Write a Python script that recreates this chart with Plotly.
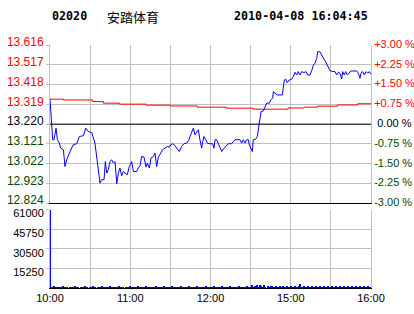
import plotly.graph_objects as go

stock_code = "02020"
stock_name = "安踏体育"
stamp = "2010-04-08 16:04:45"
prev_close = 13.220

# trading minutes since 10:00 (0..240) and last price
price_min = [0, 1.2, 2, 3, 3.7, 4.5, 5.5, 7, 8, 10, 11.2, 12.5, 15, 17.4, 20, 22, 25, 26.7, 28.7, 31.2,
             33.6, 34.9, 36.1, 37.4, 38.6, 40.4, 41.4, 42.4, 43.6, 44.9, 46.1, 47.4, 48.6, 49.3, 49.9, 51.1,
             52.3, 53.6, 54.8, 56.1, 57.8, 59.3, 61.1, 62.3, 64.8, 66, 67.3, 68.5, 70.3, 71.8, 72.8, 74.3,
             75.5, 77.3, 78.5, 79.8, 81, 82.8, 84.2, 86, 87.7, 89.2, 90.2, 91.7, 93.5, 94.7, 96.7, 98.4,
             100.2, 102.2, 103.9, 105.2, 107.2, 108.4, 109.7, 110.9, 112.1, 113.4, 114.2, 115.1, 116.4,
             117.6, 119.6, 121.6, 122.6, 123.4, 124.6, 125.8, 127.1, 128.4, 129.6, 131.6, 133.3, 135.8,
             138.3, 142.1, 143.3, 144.5, 145.8, 147, 148.3, 149, 150.3, 151.3, 152, 153.8, 155, 156, 157,
             157.8, 159.5, 160.7, 162, 164, 165, 166.5, 167, 168.2, 170, 173.7, 174.4, 175.2, 176.2, 177.4,
             178.9, 180.7, 181.9, 183.2, 184.4, 185.6, 186.9, 188.2, 189.9, 191.4, 192.7, 194.4, 195.7,
             196.9, 198.1, 199.4, 200.1, 201.9, 203.1, 204.3, 205.6, 206.9, 208.1, 209.3, 211.4, 213.1,
             214.3, 215.6, 216.8, 218.1, 218.8, 220, 221.1, 222.3, 223.6, 224.8, 229.3, 230.5, 231.8,
             232.5, 233.8, 235, 236.3, 237.5, 238.7, 240]
price_val = [13.345, 13.208, 13.142, 13.142, 13.167, 13.200, 13.142, 13.125, 13.100, 13.092, 13.008,
             13.042, 13.083, 13.117, 13.122, 13.158, 13.162, 13.200, 13.183, 13.178, 13.125, 13.058,
             12.975, 12.925, 12.942, 12.942, 13.033, 12.975, 12.992, 13.033, 13.042, 13.025, 13.033,
             12.983, 12.922, 12.975, 13.000, 12.962, 12.983, 12.975, 12.967, 13.008, 13.033, 12.983,
             12.983, 13.000, 13.012, 13.058, 13.055, 13.005, 13.025, 13.000, 13.050, 13.058, 13.075,
             13.008, 13.055, 13.075, 13.092, 13.100, 13.108, 13.105, 13.117, 13.122, 13.112, 13.100,
             13.083, 13.108, 13.122, 13.125, 13.142, 13.167, 13.200, 13.167, 13.183, 13.192, 13.142,
             13.100, 13.133, 13.158, 13.142, 13.125, 13.122, 13.122, 13.100, 13.142, 13.142, 13.125,
             13.100, 13.083, 13.095, 13.112, 13.122, 13.122, 13.142, 13.142, 13.125, 13.142, 13.125,
             13.142, 13.142, 13.117, 13.100, 13.083, 13.142, 13.145, 13.158, 13.200, 13.258, 13.283,
             13.286, 13.308, 13.325, 13.325, 13.341, 13.350, 13.383, 13.375, 13.366, 13.366, 13.395,
             13.441, 13.445, 13.428, 13.441, 13.445, 13.458, 13.480, 13.466, 13.483, 13.466, 13.483,
             13.478, 13.483, 13.466, 13.466, 13.488, 13.516, 13.525, 13.549, 13.582, 13.582, 13.566,
             13.549, 13.537, 13.521, 13.508, 13.488, 13.483, 13.483, 13.466, 13.480, 13.475, 13.446,
             13.483, 13.466, 13.483, 13.466, 13.475, 13.486, 13.486, 13.475, 13.450, 13.475, 13.483,
             13.466, 13.483, 13.475, 13.483, 13.470]

# average price (step line)
avg_min = [0, 10, 32, 40, 52, 72, 90, 110, 132, 152, 178, 190, 200, 215, 230, 240]
avg_val = [13.345, 13.341, 13.333, 13.325, 13.320, 13.315, 13.311, 13.305, 13.300, 13.295,
           13.301, 13.305, 13.310, 13.316, 13.322, 13.325]

# volume per minute (0..240)
volume = [61000, 1500, 1400, 1600, 1300, 1500, 0, 1200, 1500, 1400, 1600, 1300, 1500, 1400, 0, 1200, 1500, 1300, 1400, 1600,
          1500, 1200, 0, 1400, 1500, 1300, 1600, 1400, 1200, 0, 1500, 1400, 1600, 1300, 1500, 0, 1400, 1500, 1200, 1600,
          1400, 1300, 0, 1500, 1400, 1600, 1200, 1500, 0, 1300, 1400, 1500, 1600, 1300, 1500, 1400, 0, 1500, 1300, 1400,
          1600, 1500, 1200, 1400, 1500, 1300, 1600, 1400, 1500, 1200, 1500, 1400, 1600, 1300, 1500, 1400, 1500, 1200, 1300, 1600,
          1400, 1500, 1300, 1500, 1400, 1600, 1200, 1500, 1400, 1300, 1500, 1600, 1400, 1500, 1200, 1300, 1500, 1400, 1600, 1500,
          1300, 1400, 1500, 1200, 1600, 1400, 1500, 1300, 1400, 1500, 1600, 1200, 1500, 1400, 1300, 1500, 1400, 1600, 1500, 1300,
          1400, 1500, 1200, 1600, 1400, 1500, 1300, 1500, 1400, 1600, 1200, 1500, 1400, 1300, 1500, 1600, 1400, 1500, 1300, 1400,
          1500, 1600, 1400, 1500, 1300, 1500, 1400, 1600, 1500, 1400, 1500, 2600, 1500, 2200, 1400, 3000, 1500, 2400, 1600, 1500,
          2800, 1500, 0, 2300, 1500, 1600, 2100, 1500, 1400, 1600, 1500, 1400, 2200, 1500, 1600, 1500, 1400, 1600, 1500, 1400,
          1600, 1500, 1400, 1600, 1500, 1400, 1600, 3200, 1500, 1400, 1600, 1500, 1400, 1600, 1500, 1400, 1600, 1500, 1400, 1600,
          1500, 1400, 1600, 1500, 1400, 1600, 1500, 1400, 1600, 1500, 1400, 1600, 1500, 1400, 1600, 1500, 1400, 1600, 1500, 1400,
          1600, 1500, 1400, 1600, 1500, 1400, 1600, 1500, 1400, 1600, 1500, 1400, 1600, 1500, 1400, 1600, 1500, 1400, 1600, 1500,
          1400]

price_ticks = [12.824, 12.923, 13.022, 13.121, 13.220, 13.319, 13.418, 13.517, 13.616]
vol_ticks = [15250, 30500, 45750, 61000]
time_ticks = [0, 30, 60, 90, 120, 150, 180, 210, 240]
time_labels = ["10:00", "", "11:00", "", "12:00", "", "15:00", "", "16:00"]

RED, GREEN, BLACK, GRID = "#ff0000", "#004800", "#000000", "#c0c0c0"


def col(p):
    if abs(p - prev_close) < 1e-9:
        return BLACK
    return RED if p > prev_close else GREEN


left_text = [f"<span style='color:{col(p)}'>{p:.3f}</span>" for p in price_ticks]
right_text = []
for p in price_ticks:
    pct = (p / prev_close - 1) * 100
    if abs(pct) < 1e-9:
        s = "\u00a00.00 %"
    else:
        s = f"{pct:+.2f} %"
    right_text.append(f"<span style='color:{col(p)}'>{s}</span>")
vol_text = [str(v) for v in vol_ticks]

fig = go.Figure()
fig.add_trace(go.Scatter(x=avg_min, y=avg_val, mode="lines",
                         line=dict(color=RED, width=1, shape="hv"), xaxis="x", yaxis="y"))
fig.add_trace(go.Scatter(x=price_min, y=price_val, mode="lines",
                         line=dict(color="#0000ff", width=1), xaxis="x", yaxis="y"))
fig.add_trace(go.Scatter(x=[price_min[0]], y=[price_val[0]], mode="markers",
                         marker=dict(opacity=0), xaxis="x", yaxis="y2", hoverinfo="skip"))
fig.add_trace(go.Bar(x=list(range(len(volume))), y=volume, width=0.85,
                     marker=dict(color="#0000ff", line=dict(width=0)), xaxis="x2", yaxis="y3"))

fig.add_shape(type="line", xref="x domain", x0=0, x1=1, yref="y", y0=prev_close, y1=prev_close,
              line=dict(color=BLACK, width=1), layer="above")

prange = [price_ticks[0] - 0.0001, price_ticks[-1] + 0.0001]
axfont = dict(family="Liberation Sans, Arial, sans-serif", size=12, color=BLACK)
smfont = dict(family="Liberation Sans, Arial, sans-serif", size=11, color=BLACK)

fig.update_layout(
    width=414, height=314,
    margin=dict(l=50, r=43, t=45, b=26, autoexpand=False),
    paper_bgcolor="white", plot_bgcolor="white",
    showlegend=False,
    bargap=0,
    xaxis=dict(domain=[0, 1], range=[0, 240], anchor="y", tickvals=time_ticks, automargin=False,
               showticklabels=False, showgrid=True, gridcolor=GRID, gridwidth=1,
               showline=True, linecolor=BLACK, linewidth=1, ticks="", zeroline=False),
    xaxis2=dict(domain=[0, 1], range=[0, 240], anchor="y3", tickvals=time_ticks, ticktext=time_labels,
                automargin=False, showgrid=True, gridcolor=GRID, gridwidth=1, showline=True,
                linecolor=BLACK, linewidth=1, ticks="", zeroline=False, tickfont=smfont),
    yaxis=dict(domain=[0.3486, 1], range=prange, anchor="x", tickvals=price_ticks, ticktext=left_text,
               automargin=False, showgrid=True, gridcolor=GRID, gridwidth=1, showline=True, linecolor=GRID,
               linewidth=1, ticks="outside", ticklen=3, tickcolor=GRID, zeroline=False, tickfont=axfont,
               ticklabelshift=-3),
    yaxis2=dict(overlaying="y", side="right", anchor="x", range=prange, tickvals=price_ticks, ticktext=right_text,
                automargin=False, showgrid=False, showline=True, linecolor=GRID, linewidth=1, ticks="",
                zeroline=False, tickfont=smfont, ticklabelshift=-1),
    yaxis3=dict(domain=[0, 0.323], range=[0, vol_ticks[-1]], anchor="x2", tickvals=vol_ticks, ticktext=vol_text,
                automargin=False, showgrid=True, gridcolor=GRID, gridwidth=1, showline=True, mirror=True,
                linecolor=GRID, linewidth=1, ticks="outside", ticklen=3, tickcolor=GRID, zeroline=False,
                tickfont=smfont, ticklabelshift=4),
)

title_font = dict(family="DejaVu Sans Mono, Liberation Mono, monospace", size=11.7, color=BLACK)
fig.add_annotation(xref="paper", yref="paper", x=0, y=1.119, xanchor="left", yanchor="middle",
                   text=f"<b>{stock_code}</b>", showarrow=False, font=title_font)
fig.add_annotation(xref="paper", yref="paper", x=0.171, y=1.119, xanchor="left", yanchor="middle",
                   text=stock_name, showarrow=False,
                   font=dict(family="Noto Sans CJK SC", size=13, color=BLACK))
fig.add_annotation(xref="paper", yref="paper", x=0.997, y=1.119, xanchor="right", yanchor="middle",
                   text=f"<b>{stamp}</b>", showarrow=False, font=title_font)

fig.write_html("out.html")
